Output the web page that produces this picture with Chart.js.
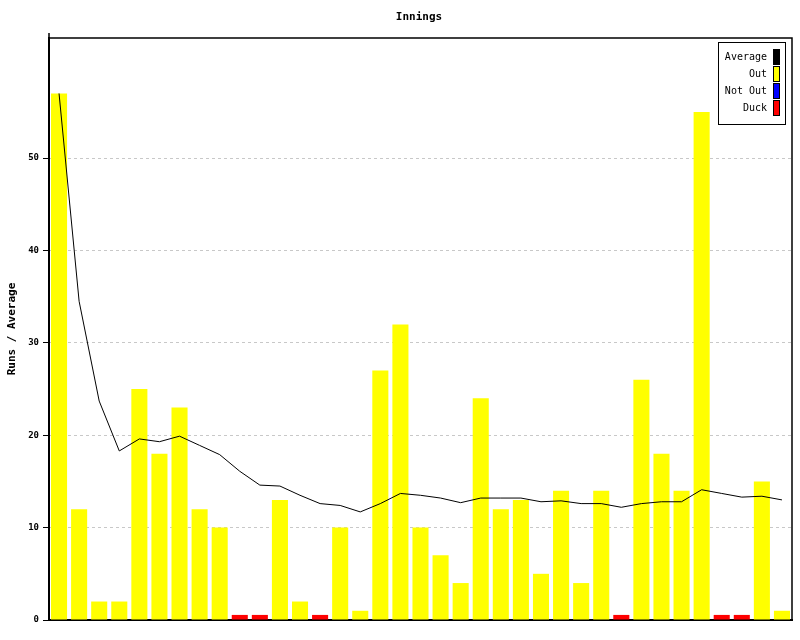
<!DOCTYPE html>
<html>
<head>
<meta charset="utf-8">
<script src="https://cdn.jsdelivr.net/npm/chart.js@4/dist/chart.umd.min.js"></script>
<style>
  html, body { margin: 0; padding: 0; background: #fff; }
  #wrap { width: 800px; height: 640px; }
</style>
</head>
<body>
<div id="wrap"><canvas id="inningsChart" width="800" height="640"></canvas></div>
<script>
const innings = Array.from({ length: 37 }, (_, i) => String(i + 1));

// bar heights as drawn (ducks shown as a short red stub)
const runs = [57, 12, 2, 2, 25, 18, 23, 12, 10, 0.55, 0.55, 13, 2, 0.55, 10, 1, 27, 32, 10, 7,
  4, 24, 12, 13, 5, 14, 4, 14, 0.55, 26, 18, 14, 55, 0.55, 0.55, 15, 1];

// O = out, N = not out, D = duck
const status = ['O', 'O', 'O', 'O', 'O', 'O', 'O', 'O', 'O', 'D', 'D', 'O', 'O', 'D', 'O', 'O', 'O', 'O', 'O', 'O',
  'O', 'O', 'O', 'O', 'O', 'O', 'O', 'O', 'D', 'O', 'O', 'O', 'O', 'D', 'D', 'O', 'O'];

const average = [57, 34.5, 23.7, 18.3, 19.6, 19.3, 19.9, 18.9, 17.9, 16.1, 14.6, 14.5, 13.5, 12.6, 12.4, 11.7, 12.6, 13.7, 13.5, 13.2,
  12.7, 13.2, 13.2, 13.2, 12.8, 12.9, 12.6, 12.6, 12.2, 12.6, 12.8, 12.8, 14.1, 13.7, 13.3, 13.4, 13.0];

const yTicks = [0, 10, 20, 30, 40, 50];

const legendItems = [
  { label: 'Average', color: '#000000' },
  { label: 'Out', color: '#ffff00' },
  { label: 'Not Out', color: '#0000ff' },
  { label: 'Duck', color: '#ff0000' }
];

const statusColors = { O: '#ffff00', N: '#0000ff', D: '#ff0000' };

const frameAndLegend = {
  id: 'frameAndLegend',
  afterDraw(chart) {
    const ctx = chart.ctx;
    const a = chart.chartArea;
    ctx.save();
    // title
    ctx.fillStyle = '#000';
    ctx.font = 'bold 11px "DejaVu Sans Mono"';
    ctx.textAlign = 'center';
    ctx.textBaseline = 'middle';
    ctx.fillText('Innings', 419, 17);

    // top & right frame
    ctx.strokeStyle = '#000';
    ctx.lineWidth = 1.5;
    ctx.beginPath();
    ctx.moveTo(a.left, a.top - 5);
    ctx.lineTo(a.left, a.top);
    ctx.lineTo(a.right, a.top);
    ctx.lineTo(a.right, a.bottom);
    ctx.stroke();

    // legend box
    const bx = 718, by = 42, bw = 67, bh = 82;
    ctx.fillStyle = '#fff';
    ctx.fillRect(bx, by, bw, bh);
    ctx.lineWidth = 1;
    ctx.strokeRect(bx + 0.5, by + 0.5, bw, bh);
    ctx.font = '10px "DejaVu Sans Mono"';
    ctx.textAlign = 'right';
    ctx.textBaseline = 'middle';
    legendItems.forEach((item, i) => {
      const cy = 57 + i * 17;
      ctx.fillStyle = '#000';
      ctx.fillText(item.label, 767, cy);
      ctx.fillStyle = item.color;
      ctx.fillRect(773, cy - 8, 7, 16);
      ctx.strokeStyle = '#000';
      ctx.strokeRect(773.5, cy - 7.5, 6, 15);
    });
    ctx.restore();
  }
};

new Chart(document.getElementById('inningsChart'), {
  data: {
    labels: innings,
    datasets: [
      {
        type: 'line',
        label: 'Average',
        data: average,
        borderColor: '#000',
        borderWidth: 1,
        pointRadius: 0,
        tension: 0,
        order: 0
      },
      {
        type: 'bar',
        label: 'Runs',
        data: runs,
        backgroundColor: status.map(s => statusColors[s]),
        borderWidth: 0,
        barPercentage: 0.8,
        categoryPercentage: 1,
        order: 1
      }
    ]
  },
  options: {
    responsive: false,
    animation: false,
    layout: { padding: { top: 38, right: 8, bottom: 19, left: 0 } },
    plugins: {
      legend: { display: false },
      tooltip: { enabled: false },
      title: { display: false }
    },
    scales: {
      x: {
        offset: true,
        ticks: { display: false },
        grid: { display: false, drawTicks: false },
        border: { color: '#000', width: 2 },
        afterFit: s => { s.height = 1; }
      },
      y: {
        min: 0,
        max: 63,
        afterBuildTicks: s => { s.ticks = yTicks.map(v => ({ value: v })); },
        ticks: {
          color: '#000',
          padding: 4,
          font: { family: 'DejaVu Sans Mono', size: 9, weight: 'bold' }
        },
        grid: {
          color: c => c.tick && c.tick.value === 0 ? 'rgba(0,0,0,0)' : '#c8c8c8',
          tickColor: '#000',
          tickBorderDash: [],
          tickLength: 6,
          tickWidth: 1
        },
        border: { color: '#000', width: 2, dash: [3, 3] },
        title: {
          display: true,
          text: 'Runs / Average',
          color: '#000',
          font: { family: 'DejaVu Sans Mono', size: 11, weight: 'bold' },
          padding: { top: 6, bottom: 0 }
        },
        afterFit: s => { s.width = 49; }
      }
    }
  },
  plugins: [frameAndLegend]
});
</script>
</body>
</html>
